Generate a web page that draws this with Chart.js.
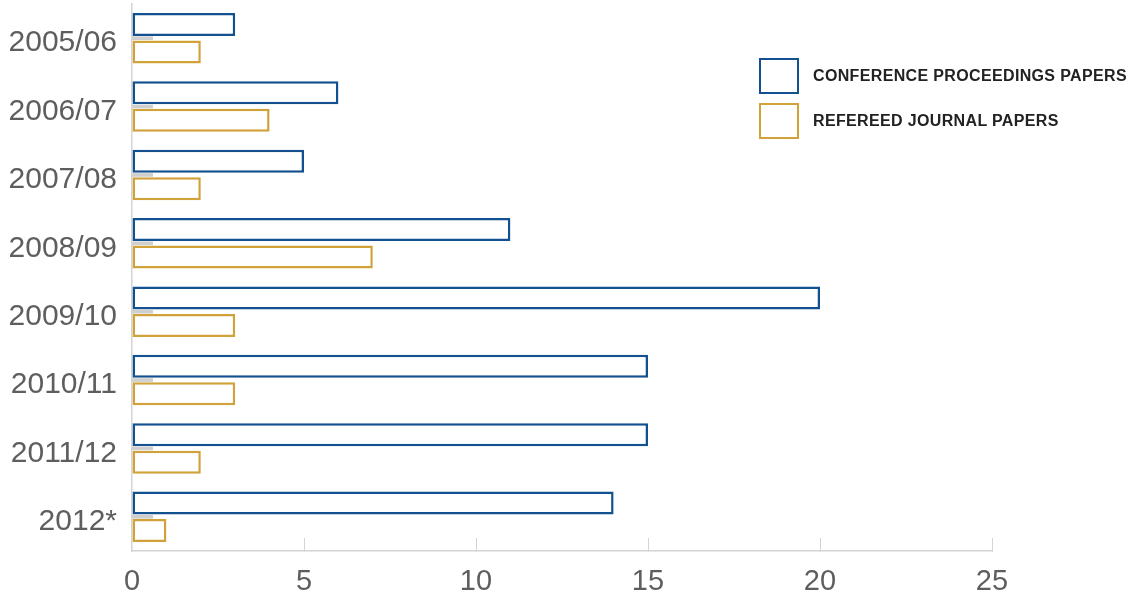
<!DOCTYPE html>
<html>
<head>
<meta charset="utf-8">
<script src="https://cdn.jsdelivr.net/npm/chart.js@4.4.1/dist/chart.umd.min.js"></script>
<style>
  html, body { margin: 0; padding: 0; background: #fff; }
  #wrap { position: relative; width: 1136px; height: 597px; }
  canvas { display: block; }
  #legend { position: absolute; left: 759px; top: 58px; font-family: "Liberation Sans", Arial, sans-serif; }
  .item { display: flex; align-items: center; height: 36px; margin-bottom: 9px; }
  .box { width: 36px; height: 32px; border: 2px solid; box-sizing: content-box; margin-right: 14px; background: #fff; }
  .lbl { font-size: 16px; font-weight: bold; color: #222; letter-spacing: 0.35px; }
</style>
</head>
<body>
<div id="wrap">
  <canvas id="c" width="1136" height="597"></canvas>
  <div id="legend"></div>
</div>
<script>
const categories = ['2005/06', '2006/07', '2007/08', '2008/09', '2009/10', '2010/11', '2011/12', '2012*'];
const conferencePapers = [3, 6, 5, 11, 20, 15, 15, 14];
const journalPapers = [2, 4, 2, 7, 3, 3, 2, 1];
const dividerMarks = [0.6, 0.6, 0.6, 0.6, 0.6, 0.6, 0.6, 0.6];
const xTicks = [0, 5, 10, 15, 20, 25];

const seriesNames = ['CONFERENCE PROCEEDINGS PAPERS', 'REFEREED JOURNAL PAPERS'];
const blue = '#12508f';
const gold = '#d2a23a';
const textGrey = '#5e5e5e';
const axisGrey = '#d4d4d4';

const chart = new Chart(document.getElementById('c'), {
  type: 'bar',
  data: {
    labels: categories,
    datasets: [
      {
        label: seriesNames[0],
        data: conferencePapers,
        backgroundColor: '#ffffff',
        borderColor: blue,
        borderWidth: 2.5,
        borderSkipped: false,
        categoryPercentage: 0.804,
        barPercentage: 0.836,
        order: 2
      },
      {
        label: seriesNames[1],
        data: journalPapers,
        backgroundColor: '#ffffff',
        borderColor: gold,
        borderWidth: 2.5,
        borderSkipped: false,
        categoryPercentage: 0.804,
        barPercentage: 0.836,
        order: 2
      },
      {
        label: 'divider',
        data: dividerMarks,
        backgroundColor: '#cfcfcf',
        borderWidth: 0,
        grouped: false,
        barThickness: 3,
        order: 1
      }
    ]
  },
  options: {
    indexAxis: 'y',
    responsive: false,
    animation: false,
    layout: { autoPadding: false, padding: { top: 4, right: 144, left: 0, bottom: 0 } },
    plugins: {
      legend: { display: false },
      tooltip: { enabled: false }
    },
    scales: {
      x: {
        min: 0,
        max: 25,
        afterBuildTicks: (scale) => { scale.ticks = xTicks.map(v => ({ value: v })); },
        afterFit: (scale) => { scale.height = 46; scale.paddingLeft = 0; scale.paddingRight = 0; },
        grid: {
          display: true,
          drawOnChartArea: false,
          drawTicks: true,
          tickLength: -13,
          color: (ctx) => ctx.tick && ctx.tick.value === 0 ? 'rgba(0,0,0,0)' : axisGrey,
          lineWidth: 1
        },
        border: { display: true, color: axisGrey, width: 1.5 },
        ticks: {
          color: textGrey,
          padding: 27,
          font: { family: 'Liberation Sans', size: 29 }
        }
      },
      y: {
        afterFit: (scale) => { scale.width = 132; scale.paddingTop = 0; scale.paddingBottom = 0; },
        grid: { display: false, drawTicks: false },
        border: { display: true, color: axisGrey, width: 1.5 },
        ticks: {
          color: textGrey,
          padding: 15,
          labelOffset: 5,
          font: { family: 'Liberation Sans', size: 30 }
        }
      }
    }
  }
});

// Legend built from the two outlined series
const legend = document.getElementById('legend');
chart.data.datasets.slice(0, 2).forEach(ds => {
  const item = document.createElement('div');
  item.className = 'item';
  const box = document.createElement('div');
  box.className = 'box';
  box.style.borderColor = ds.borderColor;
  const lbl = document.createElement('div');
  lbl.className = 'lbl';
  lbl.textContent = ds.label;
  item.appendChild(box);
  item.appendChild(lbl);
  legend.appendChild(item);
});
</script>
</body>
</html>
